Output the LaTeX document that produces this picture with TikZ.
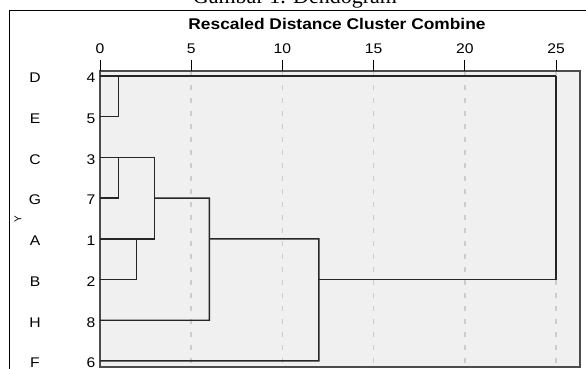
\documentclass[tikz,border=0pt]{standalone}
\usepackage{fontspec}
\setmainfont{Liberation Serif}
\setsansfont{Liberation Sans}
\begin{document}
\begin{tikzpicture}[x=1pt,y=-1pt,
  lbl/.style={font=\sffamily\fontsize{14}{14}\selectfont,inner sep=0pt,xscale=1.12},
  tree/.style={draw=black!85,line width=1.4pt},
  grid/.style={draw=black!20,line width=1.6pt,dash pattern=on 5pt off 8pt},
  tickline/.style={draw=black,line width=1pt}]
\useasboundingbox (0,0) rectangle (586,369);
% caption, partly above the page edge
\node[font=\fontsize{22}{22}\selectfont,anchor=base,inner sep=0pt] (caption) at (295,4) {Gambar 1. Dendogram};
% outer frame
\draw[line width=1pt] (9,420) -- (9,11) -- (620,11);
% plot area
\path[fill=black!6,draw=black!70,line width=1.2pt] (100,71) rectangle (580,367);
% scale: distance 0 at x=100, 18.24 per unit
\foreach \k in {5,10,15,20,25}{
  \draw[grid] ({100+18.24*\k},72) -- ({100+18.24*\k},366);
}
\foreach \k in {0,5,10,15,20,25}{
  \draw[tickline] ({100+18.24*\k},60) -- ({100+18.24*\k},71);
  \node[lbl,anchor=base] (t\k) at ({100+18.24*\k},53) {\k};
}
\node[lbl,font=\sffamily\bfseries\fontsize{15.5}{15.5}\selectfont,anchor=base] (head) at (337,30) {Rescaled Distance Cluster Combine};
\node[font=\sffamily\fontsize{10}{10}\selectfont,rotate=90,inner sep=0pt] (ylab) at (18,219.5) {Y};
% leaves
\foreach \i/\nm/\num in {0/D/4,1/E/5,2/C/3,3/G/7,4/A/1,5/B/2,6/H/8,7/F/6}{
  \coordinate (L\i) at (100,{76+40.7*\i});
  \node[lbl] (n\nm) at (35,{78+40.7*\i}) {\nm};
  \node[lbl,anchor=east] (c\num) at (95.5,{78+40.7*\i}) {\num};
}
% merge points
\coordinate (mDE) at ({100+18.24*1},76);
\coordinate (mCG) at ({100+18.24*1},157.4);
\coordinate (mAB) at ({100+18.24*2},238.8);
\coordinate (mCGAB) at ({100+18.24*3},157.4);
\coordinate (mH) at ({100+18.24*6},198.1);
\coordinate (mF) at ({100+18.24*12},238.8);
\coordinate (mAll) at ({100+18.24*25},76);
% D-E
\draw[tree] (L1) -| (mDE);
\draw[tree] (L0) -- (mAll);
% C-G
\draw[tree] (L3) -| (mCG);
\draw[tree] (L2) -- (mCGAB);
% A-B
\draw[tree] (L5) -| (mAB);
\draw[tree] (L4) -- (mCGAB |- L4);
% (C,G)+(A,B)
\draw[tree] (mCGAB) -- (mCGAB |- L4);
\draw[tree] (mCGAB |- L3) -- (mH) -- (mH |- L6) -- (L6);
% +H
\draw[tree] (mH |- L4) -- (mF) -- (mF |- L7) -- (L7);
% +F, then with D-E
\draw[tree] (mF |- L5) -- (mAll |- L5) -- (mAll);
\end{tikzpicture}
\end{document}
